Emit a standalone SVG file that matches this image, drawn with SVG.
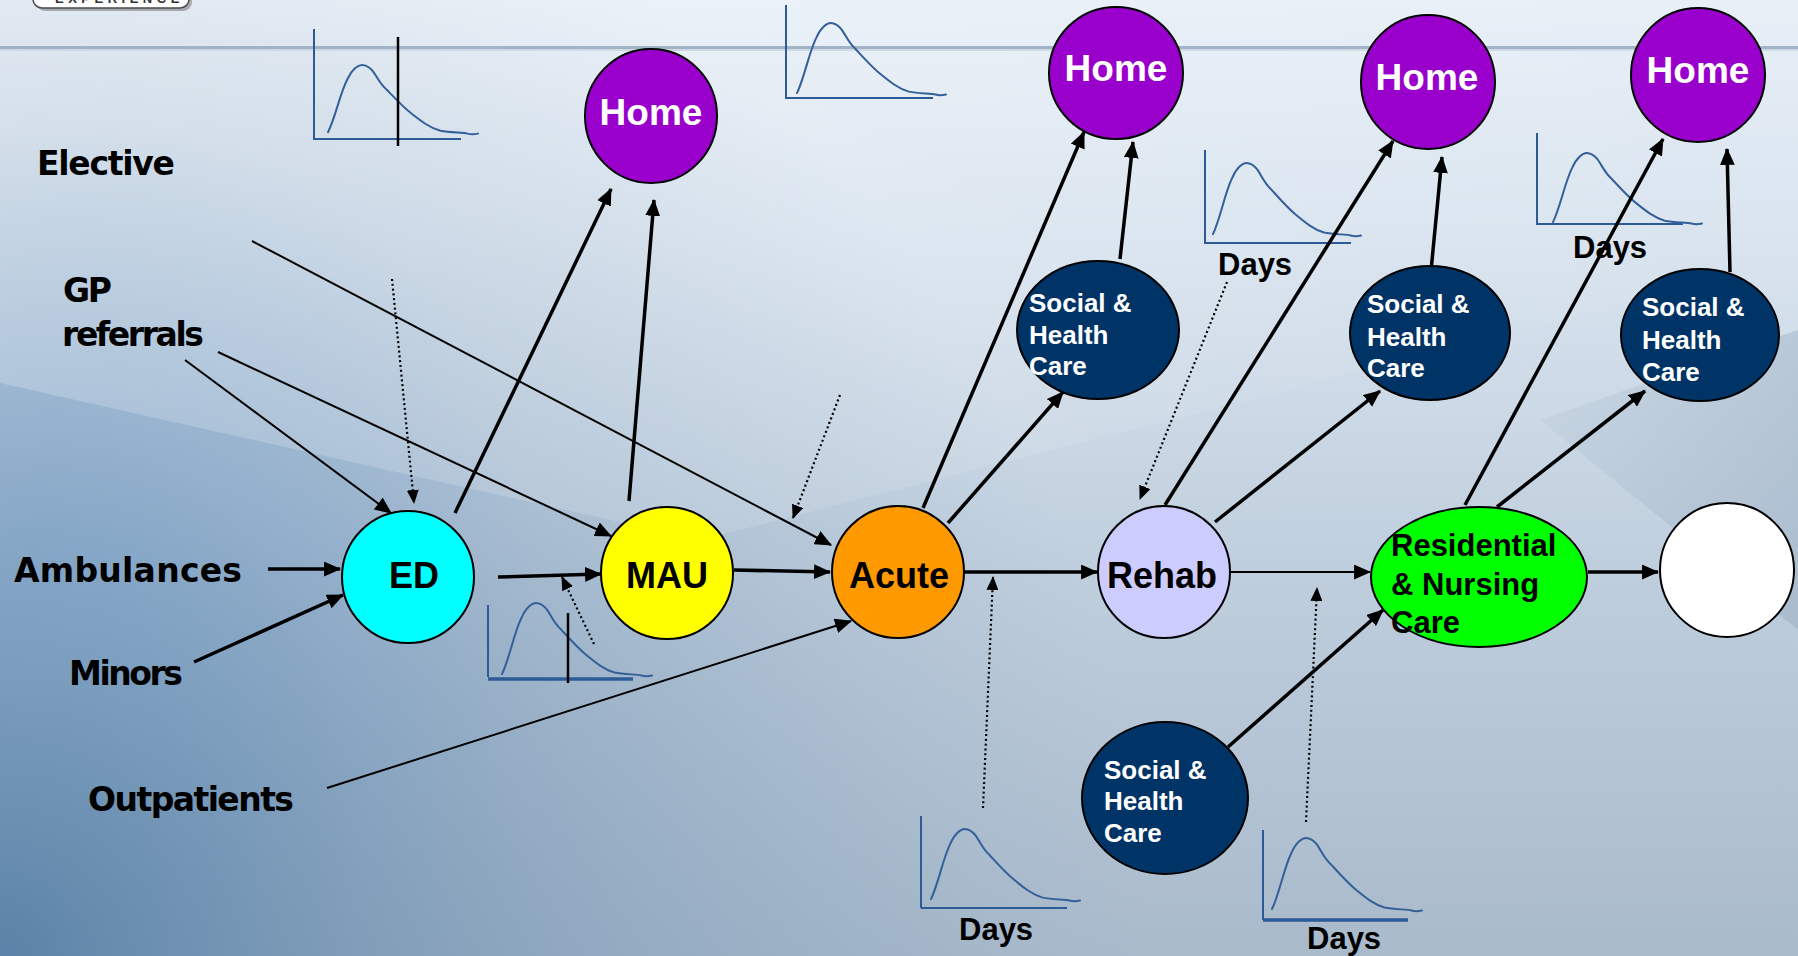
<svg xmlns="http://www.w3.org/2000/svg" width="1798" height="956" viewBox="0 0 1798 956">
<defs>
<linearGradient id="bg" x1="0" y1="0" x2="0" y2="1">
<stop offset="0" stop-color="#e8eff7"/>
<stop offset="0.25" stop-color="#d9e4ef"/>
<stop offset="0.6" stop-color="#bfcedd"/>
<stop offset="1" stop-color="#a9bacb"/>
</linearGradient>
<radialGradient id="dark" cx="0" cy="956" r="1150" gradientUnits="userSpaceOnUse">
<stop offset="0" stop-color="#4d79a0" stop-opacity="0.85"/>
<stop offset="0.45" stop-color="#6a8db0" stop-opacity="0.45"/>
<stop offset="1" stop-color="#8aa3bb" stop-opacity="0"/>
</radialGradient>
<radialGradient id="blueleft" cx="80" cy="580" r="460" gradientUnits="userSpaceOnUse">
<stop offset="0" stop-color="#a2c4e6" stop-opacity="0.75"/>
<stop offset="1" stop-color="#a2c4e6" stop-opacity="0"/>
</radialGradient>
<linearGradient id="light" x1="0" y1="0" x2="1" y2="0">
<stop offset="0" stop-color="#ffffff" stop-opacity="0.22"/>
<stop offset="1" stop-color="#ffffff" stop-opacity="0"/>
</linearGradient>
<linearGradient id="rdark" x1="0" y1="0" x2="1" y2="0">
<stop offset="0" stop-color="#7f97b0" stop-opacity="0.08"/>
<stop offset="1" stop-color="#7f97b0" stop-opacity="0.3"/>
</linearGradient>
<marker id="ah" viewBox="0 0 16 14" refX="15" refY="7" markerWidth="17" markerHeight="15" markerUnits="userSpaceOnUse" orient="auto">
<path d="M0,0 L16,7 L0,14 z" fill="#000"/>
</marker>
<marker id="dh" viewBox="0 0 14 12" refX="13" refY="6" markerWidth="14" markerHeight="12" markerUnits="userSpaceOnUse" orient="auto">
<path d="M0,0 L14,6 L0,12 z" fill="#000"/>
</marker>
<path id="curve" fill="none" stroke="#34609a" stroke-width="2" stroke-linecap="round" vector-effect="non-scaling-stroke" d="M0,0.96 C0.05,0.75 0.08,0.4 0.13,0.2 C0.16,0.06 0.2,0 0.227,0 C0.26,0 0.28,0.04 0.3,0.09 C0.33,0.18 0.35,0.28 0.39,0.35 C0.44,0.46 0.5,0.6 0.56,0.7 C0.62,0.8 0.68,0.9 0.75,0.94 C0.82,0.97 0.9,0.96 0.93,0.98 C0.96,1 0.98,0.99 1,0.98"/>
</defs>
<style>
.lbl{font-family:"DejaVu Sans",sans-serif;font-weight:bold;font-size:33px;fill:#000}
.nt{font-family:"Liberation Sans",Arial,sans-serif;font-weight:bold;font-size:36px;fill:#000;text-anchor:middle}
.ht{font-family:"Liberation Sans",Arial,sans-serif;font-weight:bold;font-size:37px;fill:#fff;text-anchor:middle}
.st{font-family:"Liberation Sans",Arial,sans-serif;font-weight:bold;font-size:26px;fill:#fff}
.rt{font-family:"Liberation Sans",Arial,sans-serif;font-weight:bold;font-size:31px;fill:#000}
.dt{font-family:"Liberation Sans",Arial,sans-serif;font-weight:bold;font-size:31px;fill:#000}
.node{stroke:#000;stroke-width:2}
.home{fill:#9900cc}
.soc{fill:#003366}
.ax{stroke:#2d5b95;stroke-width:2;fill:none}
.axb{stroke:#2d5b95;stroke-width:3.5;fill:none}
.cut{stroke:#000;stroke-width:2.5}
.a{stroke:#000;stroke-width:3.5;fill:none;marker-end:url(#ah)}
.at{stroke:#000;stroke-width:2;fill:none;marker-end:url(#ah)}
.d{stroke:#000;stroke-width:2.2;stroke-dasharray:2 2.8;fill:none;marker-end:url(#dh)}
</style>

<!-- background -->
<rect x="0" y="0" width="1798" height="956" fill="url(#bg)"/>
<rect x="0" y="0" width="1798" height="956" fill="url(#blueleft)"/>
<rect x="0" y="0" width="1798" height="956" fill="url(#dark)"/>
<polygon points="0,0 1798,0 1798,260 700,540 0,383" fill="url(#light)"/>
<polygon points="1540,420 1798,630 1798,330" fill="url(#rdark)"/>
<rect x="0" y="46" width="1798" height="3" fill="#a2b3c5"/>
<rect x="0" y="49" width="1798" height="2" fill="#c4d2e0" opacity="0.7"/>

<!-- logo fragment -->
<g id="logo">
<rect x="36" y="-22" width="156" height="33" rx="9" fill="#6b6b6b" opacity="0.5"/>
<rect x="33" y="-24" width="156" height="32" rx="9" fill="#ffffff" stroke="#4a4a4a" stroke-width="1.5"/>
<text x="55" y="3" font-family="Liberation Sans,Arial,sans-serif" font-weight="bold" font-size="13" letter-spacing="4.5" fill="#333">EXPERIENCE</text>
</g>

<!-- charts -->
<g id="chart-a">
<path class="ax" d="M314,29 V139 H461"/>
<use href="#curve" transform="translate(328,65) scale(150,70)"/>
<line class="cut" x1="398" y1="37" x2="398" y2="146"/>
</g>
<g id="chart-b">
<path class="ax" d="M786,5 V98 H933"/>
<use href="#curve" transform="translate(797,23) scale(149,73)"/>
</g>
<g id="chart-c">
<line class="ax" x1="488" y1="605" x2="488" y2="677"/>
<line class="axb" x1="488" y1="679" x2="633" y2="679"/>
<use href="#curve" transform="translate(502,603) scale(150,74)"/>
<line class="cut" x1="568" y1="613" x2="568" y2="683"/>
</g>
<g id="chart-d">
<path class="ax" d="M1205,150 V243 H1351"/>
<use href="#curve" transform="translate(1213,163) scale(148,74)"/>
</g>
<g id="chart-e">
<path class="ax" d="M1537,133 V224 H1683"/>
<use href="#curve" transform="translate(1553,153) scale(149,72)"/>
</g>
<g id="chart-f">
<line class="ax" x1="921" y1="816" x2="921" y2="908"/>
<line class="ax" x1="921" y1="908" x2="1067" y2="908" stroke-width="2.5"/>
<use href="#curve" transform="translate(931,829) scale(149,73)"/>
</g>
<g id="chart-g">
<line class="ax" x1="1263" y1="830" x2="1263" y2="920"/>
<line class="axb" x1="1263" y1="920" x2="1408" y2="920"/>
<use href="#curve" transform="translate(1272,838) scale(150,74)"/>
</g>

<!-- labels -->
<g id="labels">
<text class="lbl" x="37" y="175" textLength="138">Elective</text>
<text class="lbl" x="63" y="302" textLength="49">GP</text>
<text class="lbl" x="62" y="346" textLength="142">referrals</text>
<text class="lbl" x="14" y="582" textLength="228">Ambulances</text>
<text class="lbl" x="69" y="685" textLength="114">Minors</text>
<text class="lbl" x="88" y="811" textLength="206">Outpatients</text>
<text class="dt" x="1218" y="275">Days</text>
<text class="dt" x="1573" y="258">Days</text>
<text class="dt" x="959" y="940">Days</text>
<text class="dt" x="1307" y="949">Days</text>
</g>

<!-- connectors -->
<g id="connectors">
<line class="a" x1="268" y1="569" x2="340" y2="569"/>
<line class="a" x1="194" y1="662" x2="343" y2="595"/>
<line class="at" x1="185" y1="360" x2="391" y2="513" stroke-width="2.5"/>
<line class="at" x1="218" y1="352" x2="611" y2="536"/>
<line class="at" x1="252" y1="241" x2="831" y2="545"/>
<line class="at" x1="327" y1="788" x2="851" y2="621" stroke-width="2.5"/>
<line class="a" x1="498" y1="577" x2="601" y2="574"/>
<line class="a" x1="734" y1="570" x2="830" y2="572"/>
<line class="a" x1="964" y1="572" x2="1097" y2="572"/>
<line class="at" x1="1231" y1="572" x2="1370" y2="572"/>
<line class="a" x1="1588" y1="572" x2="1658" y2="572"/>
<line class="a" x1="455" y1="513" x2="611" y2="189"/>
<line class="a" x1="629" y1="501" x2="654" y2="200"/>
<line class="a" x1="923" y1="508" x2="1084" y2="132"/>
<line class="a" x1="948" y1="523" x2="1063" y2="392"/>
<line class="a" x1="1120" y1="259" x2="1133" y2="142"/>
<line class="a" x1="1165" y1="505" x2="1393" y2="141"/>
<line class="a" x1="1215" y1="522" x2="1380" y2="391"/>
<line class="a" x1="1431" y1="271" x2="1442" y2="157"/>
<line class="a" x1="1465" y1="505" x2="1663" y2="139"/>
<line class="a" x1="1497" y1="507" x2="1645" y2="391"/>
<line class="a" x1="1730" y1="272" x2="1727" y2="149"/>
<line class="a" x1="1228" y1="747" x2="1383" y2="610"/>
<line class="d" x1="392" y1="279" x2="414" y2="503"/>
<line class="d" x1="840" y1="395" x2="793" y2="518"/>
<line class="d" x1="1227" y1="282" x2="1140" y2="499"/>
<line class="d" x1="983" y1="808" x2="993" y2="577"/>
<line class="d" x1="1306" y1="822" x2="1317" y2="588"/>
<line class="d" x1="594" y1="644" x2="562" y2="577"/>
</g>

<!-- nodes -->
<g id="ed"><circle class="node" cx="408" cy="577" r="66" fill="#00ffff"/><text class="nt" x="414" y="588" font-size="35">ED</text></g>
<g id="mau"><circle class="node" cx="667" cy="573" r="66" fill="#ffff00"/><text class="nt" x="667" y="588">MAU</text></g>
<g id="acute"><circle class="node" cx="898" cy="572" r="66" fill="#ff9900"/><text class="nt" x="899" y="588">Acute</text></g>
<g id="rehab"><circle class="node" cx="1164" cy="572" r="66" fill="#ccccff"/><text class="nt" x="1162" y="588">Rehab</text></g>
<g id="residential"><ellipse class="node" cx="1479" cy="577" rx="108" ry="70" fill="#00ff00"/>
<text class="rt" x="1391" y="556">Residential</text><text class="rt" x="1391" y="595">&amp; Nursing</text><text class="rt" x="1391" y="633">Care</text></g>
<g id="end"><circle class="node" cx="1727" cy="570" r="67" fill="#ffffff"/></g>
<g id="home1"><ellipse class="node home" cx="651" cy="116" rx="66" ry="67"/><text class="ht" x="651" y="125">Home</text></g>
<g id="home2"><ellipse class="node home" cx="1116" cy="73" rx="67" ry="66"/><text class="ht" x="1116" y="81">Home</text></g>
<g id="home3"><ellipse class="node home" cx="1428" cy="82" rx="67" ry="67"/><text class="ht" x="1427" y="90">Home</text></g>
<g id="home4"><ellipse class="node home" cx="1698" cy="75" rx="67" ry="67"/><text class="ht" x="1698" y="83">Home</text></g>
<g id="social1"><ellipse class="node soc" cx="1098" cy="330" rx="81" ry="69"/>
<text class="st" x="1029" y="312">Social &amp;</text><text class="st" x="1029" y="344">Health</text><text class="st" x="1029" y="375">Care</text></g>
<g id="social2"><ellipse class="node soc" cx="1430" cy="333" rx="80" ry="67"/>
<text class="st" x="1367" y="313">Social &amp;</text><text class="st" x="1367" y="346">Health</text><text class="st" x="1367" y="377">Care</text></g>
<g id="social3"><ellipse class="node soc" cx="1700" cy="335" rx="79" ry="66"/>
<text class="st" x="1642" y="316">Social &amp;</text><text class="st" x="1642" y="349">Health</text><text class="st" x="1642" y="381">Care</text></g>
<g id="social4"><ellipse class="node soc" cx="1165" cy="798" rx="83" ry="76"/>
<text class="st" x="1104" y="779">Social &amp;</text><text class="st" x="1104" y="810">Health</text><text class="st" x="1104" y="842">Care</text></g>
</svg>
